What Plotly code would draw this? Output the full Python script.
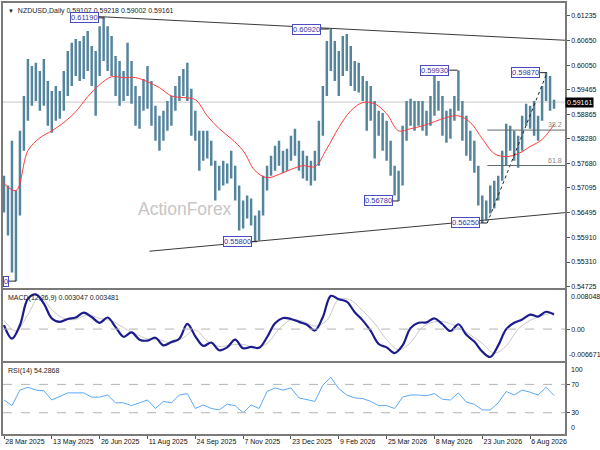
import plotly.graph_objects as go

# NZDUSD daily - price bars (high / low), oldest first
bar_high = [0.5739, 0.5715, 0.5823, 0.5703, 0.5847, 0.5931, 0.6020, 0.6003, 0.6011, 0.5991,
            0.6020, 0.5967, 0.5943, 0.5955, 0.5943, 0.5991, 0.6039, 0.6059, 0.6068, 0.6063,
            0.6075, 0.6087, 0.6051, 0.6039, 0.6099, 0.6119, 0.6099, 0.6075, 0.6027, 0.6015,
            0.5991, 0.6059, 0.6015, 0.5955, 0.5931, 0.5972, 0.6003, 0.5967, 0.5907, 0.5883,
            0.5895, 0.5919, 0.5931, 0.5955, 0.5979, 0.5996, 0.6011, 0.5948, 0.5895, 0.5847,
            0.5847, 0.5847, 0.5823, 0.5775, 0.5763, 0.5775, 0.5768, 0.5799, 0.5763, 0.5715,
            0.5679, 0.5691, 0.5684, 0.5643, 0.5655, 0.5739, 0.5763, 0.5787, 0.5811, 0.5823,
            0.5799, 0.5804, 0.5835, 0.5852, 0.5823, 0.5799, 0.5787, 0.5775, 0.5799, 0.5871,
            0.5955, 0.6063, 0.6092, 0.6063, 0.6039, 0.6075, 0.6080, 0.6051, 0.6015, 0.6011,
            0.5979, 0.5967, 0.5955, 0.5919, 0.5895, 0.5890, 0.5871, 0.5823, 0.5763, 0.5751,
            0.5859, 0.5919, 0.5924, 0.5919, 0.5919, 0.5919, 0.5895, 0.5931, 0.5985, 0.5967,
            0.5931, 0.5895, 0.5900, 0.5931, 0.5993, 0.5919, 0.5883, 0.5847, 0.5823, 0.5763,
            0.5691, 0.5679, 0.5715, 0.5727, 0.5739, 0.5799, 0.5864, 0.5859, 0.5847, 0.5835,
            0.5883, 0.5912, 0.5907, 0.5919, 0.5883, 0.5955, 0.5987, 0.5979, 0.5922]
bar_low = [0.5650, 0.5595, 0.5506, 0.5485, 0.5643, 0.5799, 0.5871, 0.5907, 0.5919, 0.5895,
           0.5907, 0.5859, 0.5842, 0.5871, 0.5876, 0.5895, 0.5931, 0.5955, 0.5979, 0.5967,
           0.5972, 0.5991, 0.5955, 0.5883, 0.5979, 0.6015, 0.5991, 0.5979, 0.5931, 0.5907,
           0.5919, 0.5931, 0.5912, 0.5859, 0.5852, 0.5895, 0.5900, 0.5859, 0.5823, 0.5799,
           0.5823, 0.5847, 0.5859, 0.5895, 0.5919, 0.5931, 0.5919, 0.5835, 0.5823, 0.5751,
           0.5775, 0.5780, 0.5763, 0.5679, 0.5703, 0.5715, 0.5720, 0.5732, 0.5679, 0.5607,
           0.5612, 0.5636, 0.5619, 0.5580, 0.5583, 0.5643, 0.5703, 0.5739, 0.5751, 0.5763,
           0.5746, 0.5751, 0.5775, 0.5787, 0.5751, 0.5732, 0.5727, 0.5715, 0.5727, 0.5763,
           0.5835, 0.5931, 0.5991, 0.5967, 0.5931, 0.5979, 0.5991, 0.5955, 0.5943, 0.5939,
           0.5919, 0.5847, 0.5871, 0.5780, 0.5835, 0.5799, 0.5775, 0.5739, 0.5691, 0.5678,
           0.5715, 0.5823, 0.5859, 0.5847, 0.5859, 0.5847, 0.5835, 0.5859, 0.5883, 0.5895,
           0.5835, 0.5818, 0.5828, 0.5871, 0.5895, 0.5823, 0.5787, 0.5775, 0.5746, 0.5667,
           0.5625, 0.5631, 0.5648, 0.5660, 0.5679, 0.5727, 0.5763, 0.5799, 0.5775, 0.5758,
           0.5799, 0.5859, 0.5852, 0.5835, 0.5823, 0.5871, 0.5919, 0.5895, 0.5900]

# moving average (red), one reading every 3 bars
ma_step = 3
ma_vals = [0.5720, 0.5703, 0.5799, 0.5830, 0.5847, 0.5867, 0.5893, 0.5929, 0.5958, 0.5977,
           0.5975, 0.5975, 0.5965, 0.5951, 0.5931, 0.5927, 0.5922, 0.5883, 0.5852, 0.5828,
           0.5799, 0.5751, 0.5734, 0.5742, 0.5754, 0.5763, 0.5761, 0.5804, 0.5855, 0.5895,
           0.5915, 0.5912, 0.5888, 0.5847, 0.5852, 0.5859, 0.5869, 0.5879, 0.5883, 0.5867,
           0.5828, 0.5792, 0.5785, 0.5792, 0.5809, 0.5826, 0.5862]

# MACD(12,26,9): main line every 2 bars, signal every 3 bars
macd_step = 2
macd_vals = [0.0008, -0.0020, 0.0008, 0.0063, 0.0072, 0.0053, 0.0022, 0.0015, 0.0021, 0.0024,
             0.0034, 0.0025, 0.0013, 0.0024, 0.0004, -0.0016, -0.0007, -0.0022, -0.0024, -0.0018,
             -0.0034, -0.0027, -0.0020, 0.0011, -0.0015, -0.0035, -0.0028, -0.0044, -0.0038, -0.0022,
             -0.0040, -0.0037, -0.0039, -0.0017, 0.0012, 0.0023, 0.0021, 0.0015, 0.0009, -0.0003,
             0.0025, 0.0069, 0.0062, 0.0057, 0.0035, 0.0018, -0.0004, -0.0031, -0.0038, -0.0050,
             -0.0034, 0.0002, 0.0013, 0.0014, 0.0022, 0.0010, -0.0004, 0.0010, -0.0012, -0.0026,
             -0.0047, -0.0058, -0.0034, 0.0000, 0.0013, 0.0020, 0.0030, 0.0026, 0.0036, 0.0030]
signal_step = 3
signal_vals = [0.0018, -0.0004, 0.0030, 0.0068, 0.0040, 0.0022, 0.0020, 0.0030, 0.0022, 0.0017,
               0.0003, -0.0010, -0.0020, -0.0022, -0.0029, -0.0018, -0.0002, -0.0025, -0.0036, -0.0033,
               -0.0032, -0.0038, -0.0030, 0.0000, 0.0019, 0.0016, 0.0006, 0.0018, 0.0062, 0.0060,
               0.0038, 0.0012, -0.0022, -0.0043, -0.0028, 0.0004, 0.0015, 0.0014, 0.0003, -0.0012,
               -0.0030, -0.0050, -0.0035, 0.0000, 0.0018, 0.0028, 0.0035]

# RSI(14), every 2 bars
rsi_step = 2
rsi_vals = [48, 40, 62, 66, 62, 61, 48, 53, 58, 58,
            58, 52, 52, 55, 44, 44, 40, 44, 48, 36,
            46, 44, 55, 57, 36, 41, 36, 34, 42, 40,
            30, 41, 36, 60, 65, 62, 65, 51, 49, 46,
            69, 80, 64, 55, 51, 50, 46, 40, 40, 36,
            52, 55, 55, 54, 57, 49, 48, 58, 45, 42,
            34, 34, 44, 60, 55, 62, 59, 55, 66, 54.29]

date_labels = ["28 Mar 2025", "13 May 2025", "26 Jun 2025", "11 Aug 2025", "24 Sep 2025", "7 Nov 2025",
               "23 Dec 2025", "9 Feb 2026", "25 Mar 2026", "8 May 2026", "23 Jun 2026", "6 Aug 2026"]
date_every = 12

price_ticks = [0.61235, 0.60650, 0.60050, 0.59465, 0.58865, 0.58280,
               0.57680, 0.57095, 0.56495, 0.55910, 0.55310, 0.54725]
last_price = 0.59161
header = "NZDUSD,Daily 0.59107 0.59218 0.59002 0.59161"
macd_text = "MACD(12,26,9) 0.003047 0.003481"
rsi_text = "RSI(14) 54.2868"

# swing labels: (text, price, bar where box ends, bar of the swing)
# the first one is cut by the chart's left edge in the original, only "0" shows
swing_labels = [("0", 0.5485, 1.25, 3.0),
                ("0.61190", 0.6119, 23.75, 25.25),
                ("0.55800", 0.5580, 62.25, 63.5),
                ("0.60920", 0.6092, 79.5, 81.5),
                ("0.56780", 0.5678, 97.5, 99.0),
                ("0.59930", 0.5993, 111.75, 113.75),
                ("0.56250", 0.5625, 119.5, 121.25),
                ("0.59870", 0.5987, 134.5, 136.25)]
fib_low, fib_high = 0.5625, 0.5987
fib_levels = [38.2, 61.8]

FONT = "Liberation Sans, Arial, sans-serif"
x_range = [-0.25, 140.75]
n_bars = len(bar_high)
idx = list(range(n_bars))

fig = go.Figure()

# price bars
fig.add_trace(go.Bar(x=idx, base=bar_low, y=[h - l for h, l in zip(bar_high, bar_low)],
                     width=0.62, marker=dict(color="#55849d", line=dict(width=0)),
                     xaxis="x", yaxis="y"))
fig.add_trace(go.Scatter(x=list(range(0, n_bars, ma_step)), y=ma_vals, mode="lines",
                         line=dict(color="#ff3b3b", width=1, shape="spline"),
                         xaxis="x", yaxis="y"))

# macd
fig.add_trace(go.Scatter(x=list(range(0, n_bars, signal_step)), y=signal_vals, mode="lines",
                         line=dict(color="#c8c8c8", width=1, shape="spline"),
                         xaxis="x2", yaxis="y2"))
fig.add_trace(go.Scatter(x=list(range(0, n_bars, macd_step)), y=macd_vals, mode="lines",
                         line=dict(color="#1c1c8f", width=2.2, shape="spline"),
                         xaxis="x2", yaxis="y2"))

# rsi
fig.add_trace(go.Scatter(x=list(range(0, n_bars, rsi_step)), y=rsi_vals, mode="lines",
                         line=dict(color="#5aa8f5", width=1),
                         xaxis="x3", yaxis="y3"))

frame = dict(showline=True, linecolor="#7a7a7a", linewidth=1.5, mirror=True,
             showgrid=False, zeroline=False)
tick_font = dict(family=FONT, size=7, color="#111111")

fig.update_layout(
    width=600, height=450,
    margin=dict(l=1, r=35, t=2, b=16),
    paper_bgcolor="white", plot_bgcolor="white",
    showlegend=False,
    xaxis=dict(domain=[0, 1], range=x_range, anchor="y", showticklabels=False, **frame),
    xaxis2=dict(domain=[0, 1], range=x_range, anchor="y2", matches="x", showticklabels=False, **frame),
    xaxis3=dict(domain=[0, 1], range=x_range, anchor="y3", matches="x",
                tickvals=[i * date_every for i in range(len(date_labels))], ticktext=date_labels,
                ticks="outside", ticklen=3, tickcolor="#555555", tickangle=0,
                ticklabelposition="outside right", tickfont=tick_font, **frame),
    yaxis=dict(domain=[0.338, 1], range=[0.54677, 0.61547], side="right",
               tickvals=price_ticks, ticktext=["%.5f" % v for v in price_ticks],
               ticks="outside", ticklen=3, tickcolor="#555555", tickfont=tick_font, **frame),
    yaxis2=dict(domain=[0.169, 0.3333], range=[-0.006671, 0.008048], side="right",
                tickvals=[0], ticktext=["0.00"], ticks="outside", ticklen=3,
                tickcolor="#555555", tickfont=tick_font, **frame),
    yaxis3=dict(domain=[0, 0.1644], range=[0, 100], side="right",
                tickvals=[70, 30], ticktext=["70", "30"], ticks="outside", ticklen=3,
                tickcolor="#555555", tickfont=tick_font, **frame),
)

shapes = []
# current price line
shapes.append(dict(type="line", xref="x domain", yref="y", x0=0, x1=1, y0=last_price, y1=last_price,
                   line=dict(color="#c8c8c8", width=1), layer="below"))
# channel lines
shapes.append(dict(type="line", xref="x", yref="y", x0=23.75, y0=0.6122, x1=140.75, y1=0.6065,
                   line=dict(color="#3a3a3a", width=1)))
shapes.append(dict(type="line", xref="x", yref="y", x0=36.5, y0=0.5557, x1=140.75, y1=0.5650,
                   line=dict(color="#3a3a3a", width=1)))
# fibonacci
shapes.append(dict(type="line", xref="x", yref="y", x0=121.25, y0=fib_low, x1=136.25, y1=fib_high,
                   line=dict(color="#222222", width=1, dash="dot")))
for lvl in fib_levels:
    price = fib_high - (fib_high - fib_low) * lvl / 100
    shapes.append(dict(type="line", xref="x", yref="y", x0=121.25, x1=140.75, y0=price, y1=price,
                       line=dict(color="#5f6b6b", width=1)))
# zero line and rsi levels
shapes.append(dict(type="line", xref="x2 domain", yref="y2", x0=0, x1=1, y0=0, y1=0,
                   line=dict(color="#b4b4b4", width=1, dash="dash")))
for lvl in [70, 30]:
    shapes.append(dict(type="line", xref="x3 domain", yref="y3", x0=0, x1=1, y0=lvl, y1=lvl,
                       line=dict(color="#b4b4b4", width=1, dash="dash")))
# swing label leaders
for text, price, box_end, swing in swing_labels:
    shapes.append(dict(type="line", xref="x", yref="y", x0=box_end, x1=swing, y0=price, y1=price,
                       line=dict(color="#222222", width=1)))
fig.update_layout(shapes=shapes)

small = dict(family=FONT, size=7, color="#222222")
ann = []
ann.append(dict(xref="paper", yref="paper", x=0, y=1, xanchor="left", yanchor="top", xshift=3, yshift=-2,
                text="<span style='font-size:6px'>▼</span>  " + header, showarrow=False, font=small))
ann.append(dict(xref="paper", yref="y2 domain", x=0, y=1, xanchor="left", yanchor="top", xshift=3, yshift=-2,
                text=macd_text, showarrow=False, font=small))
ann.append(dict(xref="paper", yref="y3 domain", x=0, y=1, xanchor="left", yanchor="top", xshift=3, yshift=-2,
                text=rsi_text, showarrow=False, font=small))
ann.append(dict(xref="paper", yref="paper", x=0.236, y=0.523, text="ActionForex", showarrow=False,
                font=dict(family=FONT, size=17.5, color="#c6c6c6")))
# right-hand labels
ann.append(dict(xref="paper", yref="y", x=1, y=last_price, xanchor="left", yanchor="middle", xshift=0,
                text="0.59161", showarrow=False, bgcolor="black", borderpad=1,
                font=dict(family=FONT, size=7, color="white")))
ann.append(dict(xref="paper", yref="y2 domain", x=1, y=1, xanchor="left", yanchor="top", xshift=4, yshift=-1,
                text="0.008048", showarrow=False, font=tick_font))
ann.append(dict(xref="paper", yref="y2 domain", x=1, y=0, xanchor="left", yanchor="bottom", xshift=2, yshift=1,
                text="-0.006671", showarrow=False, font=tick_font))
ann.append(dict(xref="paper", yref="y3 domain", x=1, y=1, xanchor="left", yanchor="top", xshift=4, yshift=-1,
                text="100", showarrow=False, font=tick_font))
ann.append(dict(xref="paper", yref="y3 domain", x=1, y=0, xanchor="left", yanchor="bottom", xshift=4, yshift=1,
                text="0", showarrow=False, font=tick_font))
# fib level text
for lvl in fib_levels:
    price = fib_high - (fib_high - fib_low) * lvl / 100
    ann.append(dict(xref="x domain", yref="y", x=1, y=price, xanchor="right", yanchor="bottom", xshift=-1,
                    text="%.1f" % lvl, showarrow=False, font=dict(family=FONT, size=7, color="#7f8a8a")))
# swing labels
for text, price, box_end, swing in swing_labels:
    ann.append(dict(xref="x", yref="y", x=box_end, y=price, xanchor="right", yanchor="middle",
                    text=text, showarrow=False, bgcolor="white", bordercolor="#4b4bc0",
                    borderwidth=1, borderpad=0, font=dict(family=FONT, size=7.5, color="#3535a5")))
fig.update_layout(annotations=ann)

# page body has a default margin; drop it so the 600x450 figure fills the window
fig.write_html("out.html", config={"displayModeBar": False},
               post_script="document.body.style.margin='0';")
